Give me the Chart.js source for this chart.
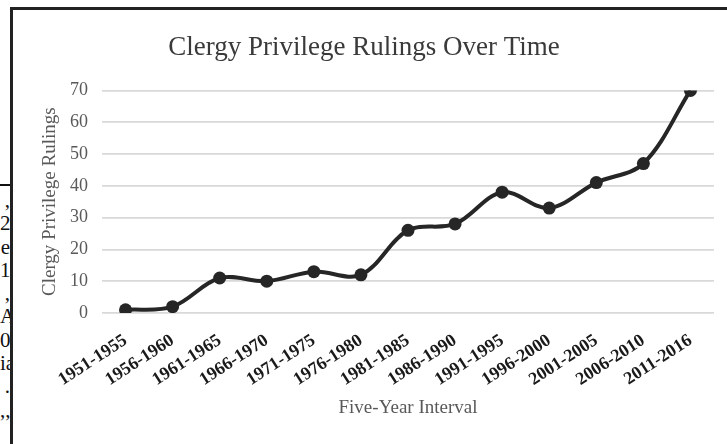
<!DOCTYPE html>
<html>
<head>
<meta charset="utf-8">
<script src="https://cdn.jsdelivr.net/npm/chart.js@4.4.0/dist/chart.umd.min.js"></script>
<style>
  html, body { margin: 0; padding: 0; background: #fff; overflow: hidden; width: 727px; height: 444px; }
  #frame {
    position: absolute; left: 10px; top: 7px; width: 740px; height: 450px;
    border-left: 3px solid #222; border-top: 3px solid #222;
  }
  #wrap { position: absolute; left: 1px; top: 0; width: 726px; height: 434px; }
  #scrap {
    position: absolute; left: 0; top: 184px; width: 10px; height: 270px;
    border-top: 2px solid #111; padding-top: 3px; overflow: hidden;
    font-family: 'Liberation Serif', 'Times New Roman', serif; font-size: 21px;
    line-height: 23.3px; color: #111; text-align: right; white-space: nowrap;
  }
</style>
</head>
<body>
<div id="scrap">,<br>2<br>e<br>1<br>,<br>Ar<br>0<br>ia<br>.<br>,,</div>
<div id="frame"><div id="wrap"><canvas id="grafico"></canvas></div></div>
<script>
// Datos
const intervalos = ['1951-1955', '1956-1960', '1961-1965', '1966-1970', '1971-1975', '1976-1980',
    '1981-1985', '1986-1990', '1991-1995', '1996-2000', '2001-2005', '2006-2010', '2011-2016'];
const fallos = [1, 2, 11, 10, 13, 12, 26, 28, 38, 33, 41, 47, 70];
const ticksY = [0, 10, 20, 30, 40, 50, 60, 70];

const serif = "'Liberation Serif', 'Times New Roman', serif";
const oscuro = '#262626';

new Chart(document.getElementById('grafico').getContext('2d'), {
    type: 'line',
    data: {
        labels: intervalos,
        datasets: [{
            label: 'Clergy Privilege Rulings',
            data: fallos,
            borderColor: oscuro,
            backgroundColor: oscuro,
            borderWidth: 4,
            pointRadius: 6.5,
            pointBackgroundColor: oscuro,
            pointBorderColor: oscuro,
            pointBorderWidth: 0,
            tension: 0.35,
            fill: false
        }]
    },
    options: {
        responsive: true,
        maintainAspectRatio: false,
        animation: false,
        layout: { padding: { left: 0, right: 26, top: 0, bottom: 0 } },
        plugins: {
            legend: { display: false },
            tooltip: { enabled: false },
            title: {
                display: true,
                text: 'Clergy Privilege Rulings Over Time',
                color: '#3a3a3a',
                font: { family: serif, size: 27, weight: 'normal' },
                padding: { top: 22, bottom: 26 }
            }
        },
        scales: {
            x: {
                offset: true,
                grid: { display: false },
                border: { display: false },
                ticks: {
                    color: '#1a1a1a',
                    font: { family: serif, size: 18, weight: 'bold' },
                    autoSkip: false,
                    minRotation: 33,
                    maxRotation: 33,
                    padding: 9
                },
                title: {
                    display: true,
                    text: 'Five-Year Interval',
                    color: '#595959',
                    font: { family: serif, size: 19 },
                    padding: { top: 0, bottom: 25 }
                },
                afterFit: (scale) => { scale.height = 131; }
            },
            y: {
                min: 0,
                max: 70,
                afterBuildTicks: (scale) => { scale.ticks = ticksY.map(v => ({ value: v })); },
                grid: { color: '#d9d9d9', lineWidth: 1.8, drawTicks: false },
                border: { display: false },
                ticks: {
                    color: '#595959',
                    font: { family: serif, size: 18 },
                    padding: 14
                },
                title: {
                    display: true,
                    text: 'Clergy Privilege Rulings',
                    color: '#595959',
                    font: { family: serif, size: 19 },
                    padding: { top: 25, bottom: 0 }
                },
                afterFit: (scale) => { scale.width = 88; }
            }
        }
    }
});
</script>
</body>
</html>
